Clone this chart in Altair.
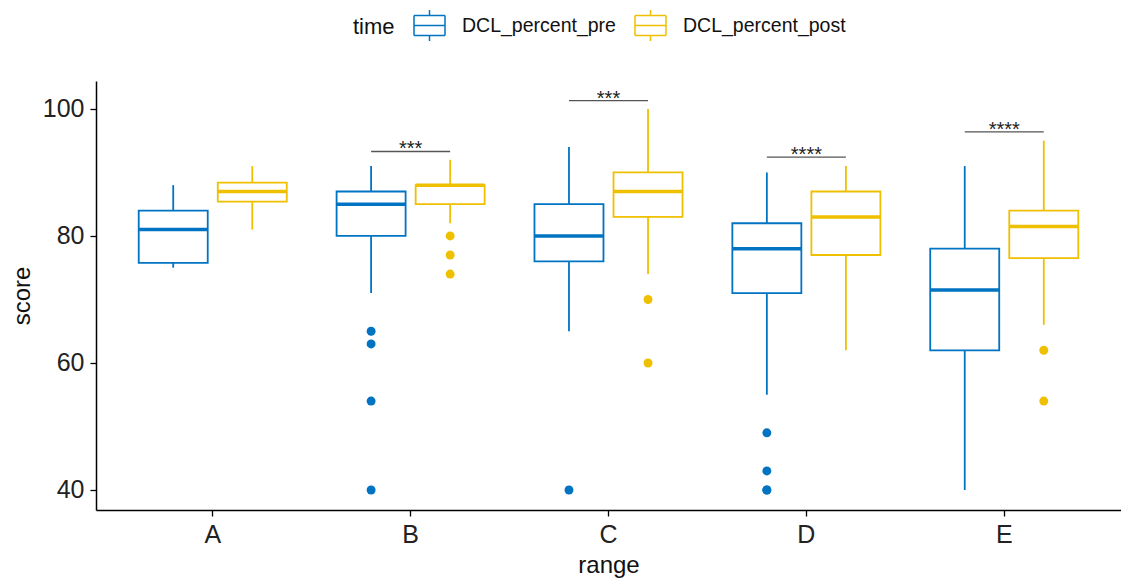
import altair as alt
import pandas as pd

# ---- data ----
ranges = ["A", "B", "C", "D", "E"]
times = ["DCL_percent_pre", "DCL_percent_post"]

pre_lower = [75, 71, 65, 55, 40]
pre_q1 = [75.75, 80, 76, 71, 62]
pre_median = [81, 85, 80, 78, 71.5]
pre_q3 = [84, 87, 85, 82, 78]
pre_upper = [88, 91, 94, 90, 91]

post_lower = [81, 82, 74, 62, 66]
post_q1 = [85.4, 85, 83, 77, 76.5]
post_median = [87, 88, 87, 83, 81.5]
post_q3 = [88.4, 88, 90, 87, 84]
post_upper = [91, 92, 100, 91, 95]

outlier_range = ["B", "B", "B", "B", "B", "B", "B", "C", "C", "C", "D", "D", "D", "D", "E", "E"]
outlier_time = ["DCL_percent_pre"] * 4 + ["DCL_percent_post"] * 3 + ["DCL_percent_pre"] + ["DCL_percent_post"] * 2 + ["DCL_percent_pre"] * 4 + ["DCL_percent_post"] * 2
outlier_value = [65, 63, 54, 40, 80, 77, 74, 40, 70, 60, 49, 43, 40, 40, 62, 54]

sig_range = ["B", "C", "D", "E"]
sig_y = [93.3, 101.3, 92.4, 96.4]
sig_label = ["***", "***", "****", "****"]

y_ticks = [40, 60, 80, 100]

BLUE = "#0073C2"
YELLOW = "#EFC000"
FONT = "Liberation Sans"

# ---- tables ----
rows = []
for i, r in enumerate(ranges):
    rows.append(dict(range=r, time=times[0], lower=pre_lower[i], q1=pre_q1[i],
                     median=pre_median[i], q3=pre_q3[i], upper=pre_upper[i]))
    rows.append(dict(range=r, time=times[1], lower=post_lower[i], q1=post_q1[i],
                     median=post_median[i], q3=post_q3[i], upper=post_upper[i]))
stats = pd.DataFrame(rows)
outliers = pd.DataFrame(dict(range=outlier_range, time=outlier_time, score=outlier_value))
brk = pd.DataFrame([dict(range=r, time=t, y=y) for r, y in zip(sig_range, sig_y) for t in times])
sig = pd.DataFrame(dict(range=sig_range, y=sig_y, label=sig_label))

yscale = alt.Scale(domain=[36.85, 104.4], nice=False, zero=False)
xscale = alt.Scale(domain=ranges, paddingInner=0, paddingOuter=0.09)
offscale = alt.Scale(domain=times, paddingInner=0, paddingOuter=0.2516)


def cscale():
    return alt.Scale(domain=times, range=[BLUE, YELLOW])


X = alt.X("range:N", scale=xscale, sort=ranges,
          axis=alt.Axis(title="range", labelAngle=0))
XO = alt.XOffset("time:N", scale=offscale, sort=times)
YAX = alt.Axis(title="score", values=y_ticks)

# boxplot glyph built only from open line segments (no fillable area)
box_path = ("M-1,-0.65H1 M1,-0.65V0.65 M1,0.65H-1 M-1,0.65V-0.65 "
            "M-1,0H1 M0,-0.65V-1 M0,0.65V1")

LEG = alt.Legend(
    title="time", orient="none", direction="horizontal",
    legendX=257, legendY=-72, titleOrient="left",
    symbolType=box_path, symbolSize=961, symbolStrokeWidth=1.5,
    symbolFillColor="transparent", symbolOpacity=1,
    labelFontSize=19.5, titleFontSize=22, labelFont=FONT, titleFont=FONT,
    titleFontWeight="normal", labelColor="#111111", titleColor="#111111",
    labelLimit=400,
    columnPadding=16, labelOffset=16, titlePadding=18, padding=0,
)
C = alt.Color("time:N", scale=cscale(), sort=times, legend=LEG)
S = alt.Stroke("time:N", scale=cscale(), sort=times, legend=None)
F = alt.Fill("time:N", scale=cscale(), sort=times, legend=None)

base = alt.Chart(stats)

whisk_lo = base.mark_rule(strokeWidth=1.8).encode(
    x=X, xOffset=XO,
    y=alt.Y("lower:Q", scale=yscale, axis=YAX),
    y2="q1:Q", color=C)
whisk_hi = base.mark_rule(strokeWidth=1.8).encode(
    x=X, xOffset=XO, y=alt.Y("q3:Q", scale=yscale, axis=YAX), y2="upper:Q", color=C)
boxes = base.mark_bar(filled=False, fill="transparent", size=69, strokeWidth=1.8).encode(
    x=X, xOffset=XO, y=alt.Y("q1:Q", scale=yscale, axis=YAX), y2="q3:Q", stroke=S)
medians = base.mark_tick(size=69, thickness=3.5, opacity=1).encode(
    x=X, xOffset=XO, y=alt.Y("median:Q", scale=yscale, axis=YAX), fill=F)

points = alt.Chart(outliers).mark_circle(size=80, opacity=1).encode(
    x=X, xOffset=XO, y=alt.Y("score:Q", scale=yscale, axis=YAX), fill=F)

brackets = alt.Chart(brk).mark_line(color="#555555", strokeWidth=1.3).encode(
    x=X, xOffset=XO, y=alt.Y("y:Q", scale=yscale, axis=YAX), detail="range:N")

stars = alt.Chart(sig).mark_text(font=FONT, fontSize=20, color="#222222",
                                 baseline="alphabetic", dy=4).encode(
    x=X, y=alt.Y("y:Q", scale=yscale, axis=YAX), text="label:N")

chart = alt.layer(whisk_lo, whisk_hi, boxes, medians, points, brackets, stars).properties(
    width=1025, height=429,
    autosize=alt.AutoSizeParams(type="none"),
    padding={"left": 96, "top": 81, "right": 0, "bottom": 68},
).configure_view(stroke=None).configure_axis(
    grid=False, domainColor="#000000", domainWidth=1.5, tickColor="#000000",
    tickWidth=1.3, tickSize=6, labelFont=FONT, titleFont=FONT,
    labelFontSize=25, titleFontSize=24, labelColor="#222222", titleColor="#111111",
    titleFontWeight="normal", labelPadding=6,
).configure_axisY(
    titlePadding=8,
).configure_axisX(
    titlePadding=6,
)

chart.save("out.html", embed_options={"renderer": "svg", "actions": False})
